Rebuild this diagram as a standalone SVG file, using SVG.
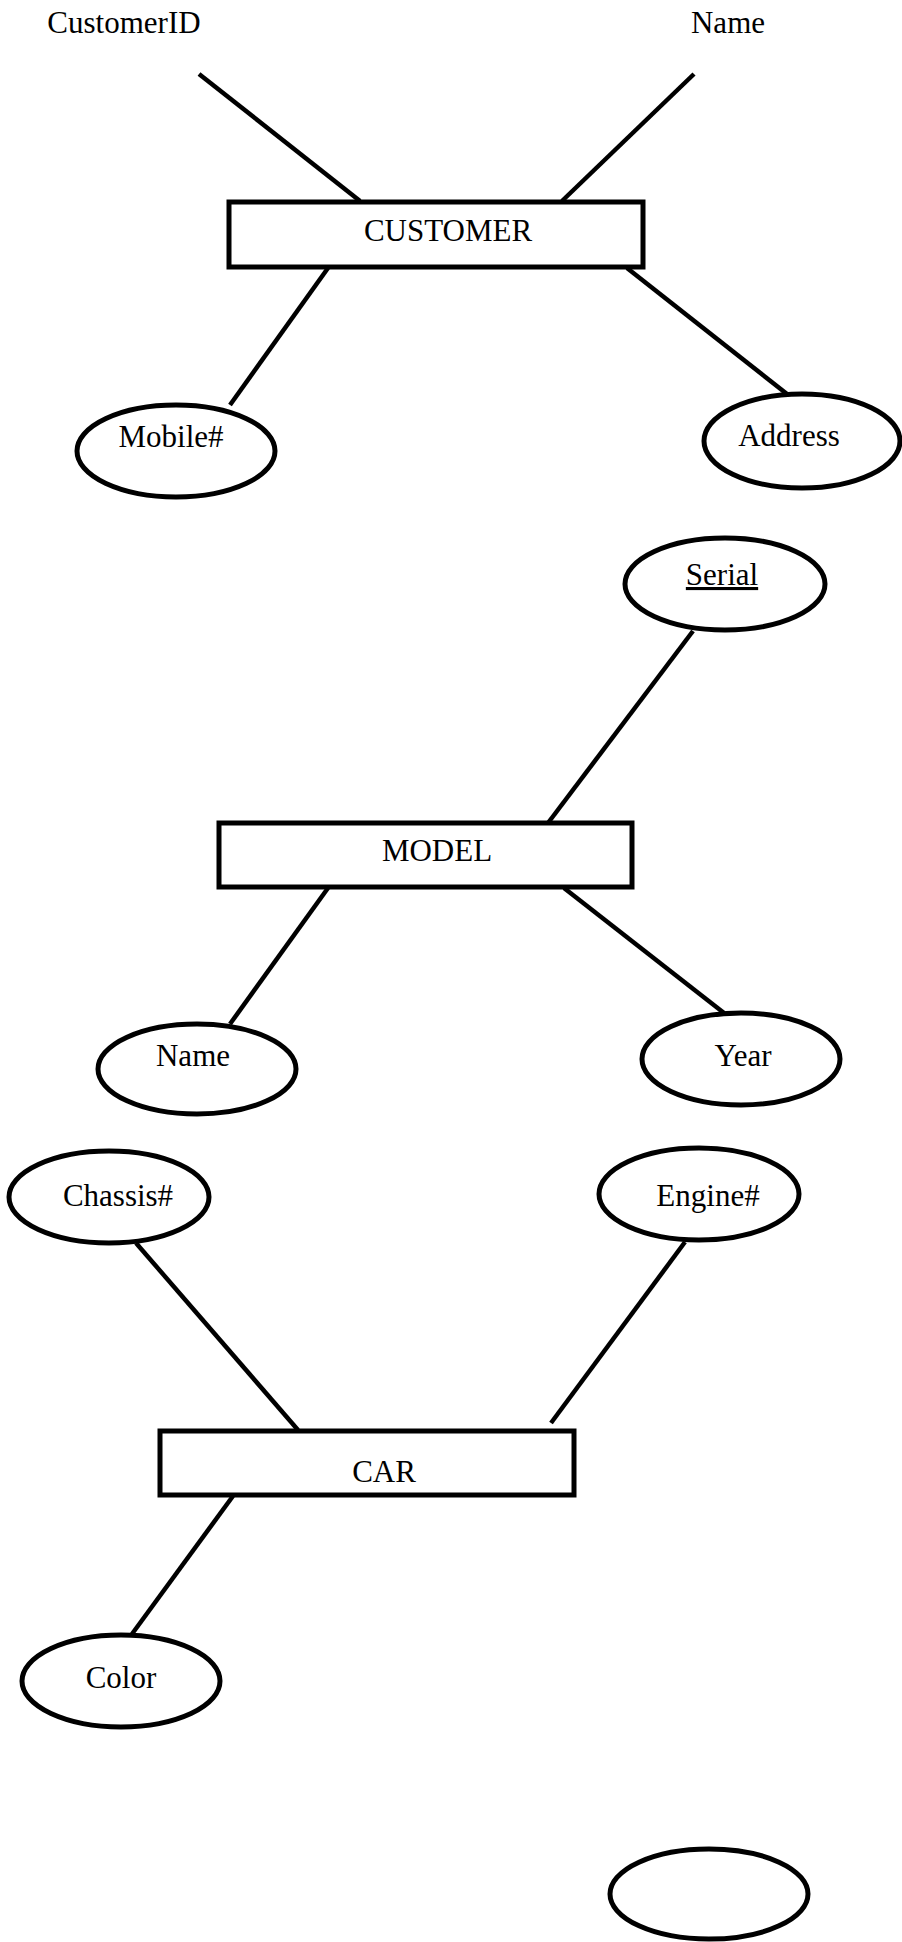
<svg xmlns="http://www.w3.org/2000/svg" width="902" height="1942" viewBox="0 0 902 1942">
<style>
.ent{fill:#fff;stroke:#000;stroke-width:5}
.att{fill:#fff;stroke:#000;stroke-width:5}
.ln{stroke:#000;stroke-width:4.5;fill:none}
text{font-family:"Liberation Serif","Times New Roman",serif;font-size:31px;fill:#000;text-anchor:middle}
</style>
<rect width="902" height="1942" fill="#fff"/>
<g id="connectors">
<line class="ln" x1="199" y1="74" x2="360" y2="201"/>
<line class="ln" x1="694" y1="74" x2="562" y2="201"/>
<line class="ln" x1="328" y1="268" x2="230" y2="405"/>
<line class="ln" x1="627" y1="268" x2="787" y2="394"/>
<line class="ln" x1="693" y1="631" x2="548" y2="823"/>
<line class="ln" x1="328" y1="888" x2="230" y2="1024"/>
<line class="ln" x1="564" y1="888" x2="724" y2="1013"/>
<line class="ln" x1="136" y1="1243" x2="298" y2="1430"/>
<line class="ln" x1="685" y1="1242" x2="551" y2="1423"/>
<line class="ln" x1="233" y1="1496" x2="132" y2="1634"/>
</g>
<g id="customerid"><text x="124" y="33">CustomerID</text></g>
<g id="name-top"><text x="728" y="33">Name</text></g>
<g id="customer">
<rect class="ent" x="229" y="202" width="414" height="65"/>
<text x="448" y="241">CUSTOMER</text>
</g>
<g id="mobile">
<ellipse class="att" cx="176" cy="451" rx="99" ry="46"/>
<text x="171" y="447">Mobile#</text>
</g>
<g id="address">
<ellipse class="att" cx="802" cy="441" rx="98" ry="47"/>
<text x="789" y="446">Address</text>
</g>
<g id="serial">
<ellipse class="att" cx="725" cy="584" rx="100" ry="46"/>
<text x="722" y="585" text-decoration="underline">Serial</text>
</g>
<g id="model">
<rect class="ent" x="219" y="823" width="413" height="64"/>
<text x="437" y="861">MODEL</text>
</g>
<g id="name-model">
<ellipse class="att" cx="197" cy="1069" rx="99" ry="45"/>
<text x="193" y="1066">Name</text>
</g>
<g id="year">
<ellipse class="att" cx="741" cy="1059" rx="99" ry="46"/>
<text x="743" y="1066">Year</text>
</g>
<g id="chassis">
<ellipse class="att" cx="109" cy="1197" rx="100" ry="46"/>
<text x="118" y="1206">Chassis#</text>
</g>
<g id="engine">
<ellipse class="att" cx="699" cy="1194" rx="100" ry="46"/>
<text x="708" y="1206">Engine#</text>
</g>
<g id="car">
<rect class="ent" x="160" y="1431" width="414" height="64"/>
<text x="384" y="1482">CAR</text>
</g>
<g id="color">
<ellipse class="att" cx="121" cy="1681" rx="99" ry="46"/>
<text x="121" y="1688">Color</text>
</g>
<g id="empty">
<ellipse class="att" cx="709" cy="1894" rx="99" ry="45"/>
</g>
</svg>
